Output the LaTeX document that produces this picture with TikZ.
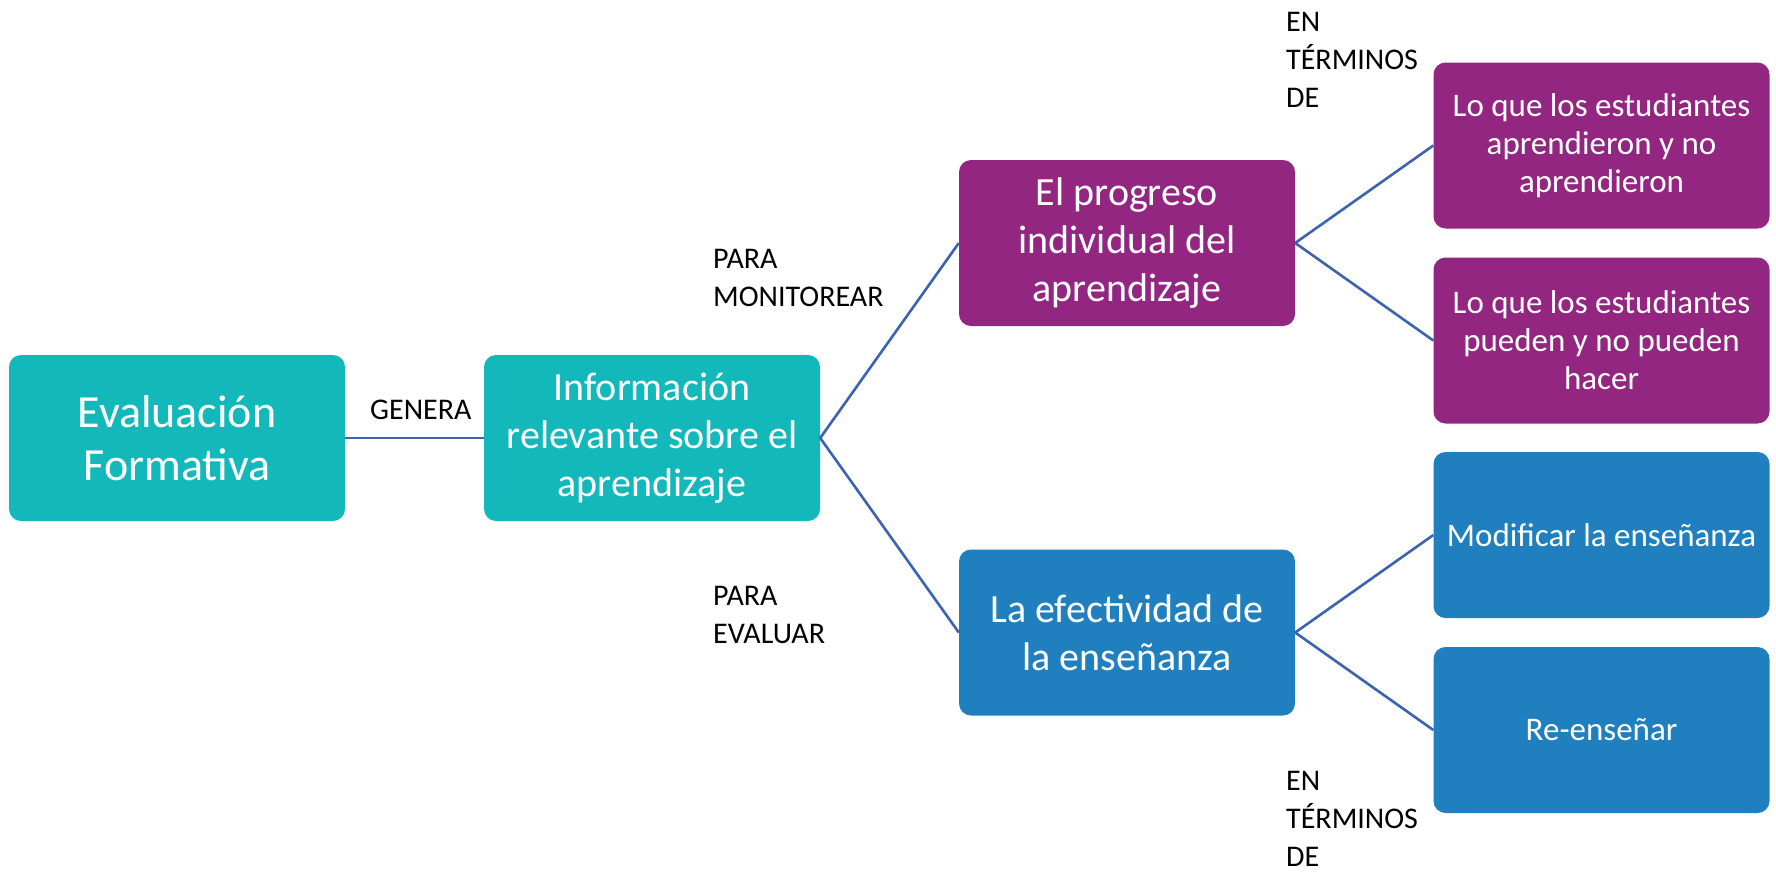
\documentclass[tikz,border=0pt]{standalone}
\usepackage{fontspec}
\setmainfont{Carlito}
\definecolor{tealc}{HTML}{13B9BA}
\definecolor{purplec}{HTML}{922680}
\definecolor{bluec}{HTML}{2080BF}
\definecolor{linec}{HTML}{3C63AE}
\begin{document}
\begin{tikzpicture}[x=1pt,y=-1pt,
  box/.style={rounded corners=12pt, minimum width=336pt, minimum height=166pt,
    inner sep=0pt, align=center, text=white},
  bigtxt/.style={font=\fontsize{46}{53}\selectfont},
  midtxt/.style={font=\fontsize{40}{48}\selectfont},
  smalltxt/.style={font=\fontsize{33}{38}\selectfont},
  lbl/.style={anchor=north west, inner sep=0pt, align=left, text=black,
    font=\fontsize{30}{38}\selectfont},
  conn/.style={draw=linec, line width=2.6pt}]
\fill[white] (0,0) rectangle (1776,873);
\useasboundingbox (0,0) rectangle (1776,873);

\node[box, fill=tealc, bigtxt] (b1) at (177,438) {Evaluación\\Formativa};
\node[box, fill=tealc, midtxt] (b2) at (652,438) {Información\\relevante sobre el\\aprendizaje};
\node[box, fill=purplec, midtxt] (b3) at (1127,243) {El progreso\\individual del\\aprendizaje};
\node[box, fill=bluec, midtxt] (b4) at (1127,632.5) {La efectividad de\\la enseñanza};
\node[box, fill=purplec, smalltxt] (b5) at (1601.5,145.5) {Lo que los estudiantes\\aprendieron y no\\aprendieron};
\node[box, fill=purplec, smalltxt] (b6) at (1601.5,340.5) {Lo que los estudiantes\\pueden y no pueden\\hacer};
\node[box, fill=bluec, smalltxt] (b7) at (1601.5,535) {Modificar la enseñanza};
\node[box, fill=bluec, smalltxt] (b8) at (1601.5,730) {Re-enseñar};

\draw[conn] (b1.east) -- (b2.west);
\draw[conn] (b2.east) -- (b3.west);
\draw[conn] (b2.east) -- (b4.west);
\draw[conn] (b3.east) -- (b5.west);
\draw[conn] (b3.east) -- (b6.west);
\draw[conn] (b4.east) -- (b7.west);
\draw[conn] (b4.east) -- (b8.west);

\node[lbl] (l1) at (370,400) {GENERA};
\node[lbl] (l2) at (713,249) {PARA\\MONITOREAR};
\node[lbl] (l3) at (713,586) {PARA\\EVALUAR};
\node[lbl] (l4) at (1286,12) {EN\\TÉRMINOS\\DE};
\node[lbl] (l5) at (1286,771) {EN\\TÉRMINOS\\DE};
\end{tikzpicture}
\end{document}
